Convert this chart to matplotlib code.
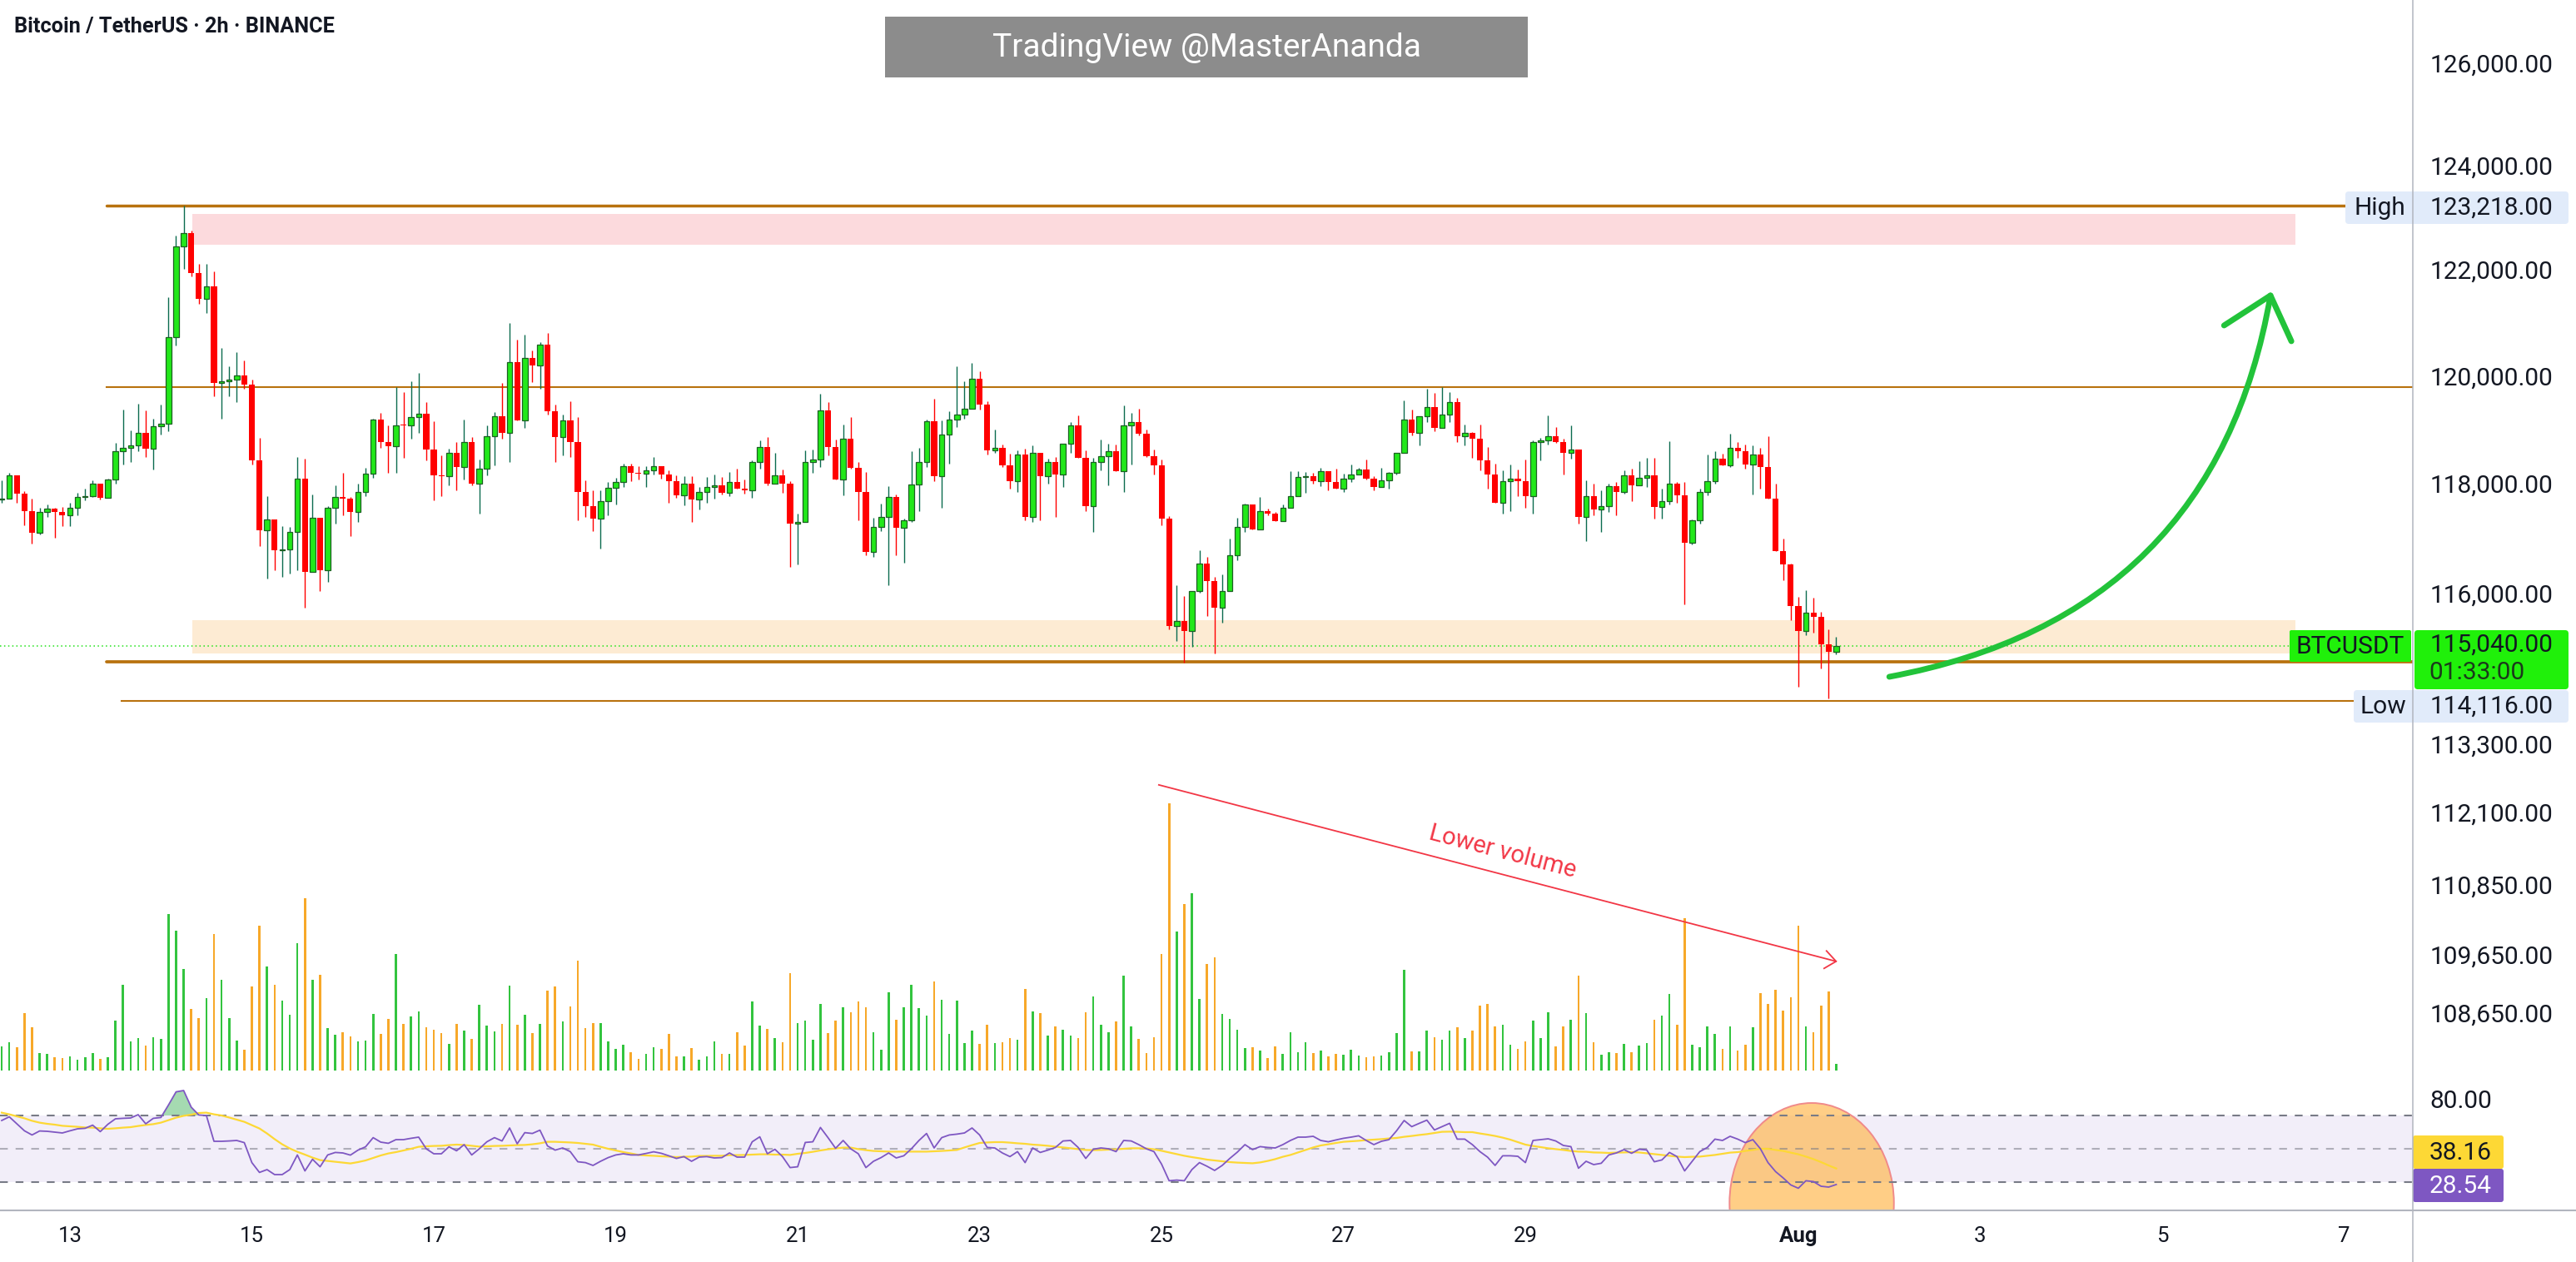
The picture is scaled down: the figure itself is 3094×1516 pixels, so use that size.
import matplotlib
matplotlib.use("Agg")
import matplotlib.pyplot as plt
import matplotlib.dates as mdates
import numpy as np
import pandas as pd
from matplotlib.patches import Rectangle, FancyBboxPatch, Ellipse, PathPatch
from matplotlib.path import Path
from matplotlib.ticker import NullLocator

plt.rcParams['font.family'] = ['Roboto', 'DejaVu Sans']

# ---------------- data (BTCUSDT 2h, Binance) ----------------
start_time = '2025-07-12 06:00'

opens = [117710,117720,118150,117810,117490,117090,117470,117540,117470,117420,
117550,117750,117770,117990,117730,118070,118600,118660,118710,118940,
118640,119060,119100,120730,122440,122700,121940,121440,121690,119860,
119890,119920,120010,119830,118420,117140,117340,116780,116800,117110,
118090,116390,117370,116410,117550,117750,117720,117470,117850,118180,
119180,118760,118690,119080,119070,119230,119290,118620,118150,118140,
118570,118300,118760,117990,118270,118870,119250,118940,120250,119160,
120330,120200,120580,119330,118860,119160,118760,117850,117590,117360,
117670,117920,118020,118320,118190,118180,118240,118320,118170,118050,
117790,117990,117700,117840,117930,117960,117830,118020,117900,117870,
118400,118670,118000,118150,117990,117260,117300,118390,118440,119350,
118680,118070,118820,118290,117840,116750,117210,117380,117750,117190,
117320,117980,118390,119150,118140,118900,119180,119270,119390,119950,
119460,118610,118650,118340,118040,118530,117380,118560,118130,118390,
118170,118740,119080,118480,117590,118400,118500,118590,118220,119080,
119130,118920,118510,118340,117350,115410,115490,115310,116030,116540,
116220,115740,116030,116690,117210,117610,117150,117490,117440,117310,
117560,117760,118120,118130,118040,118220,118030,117910,118090,118170,
118260,118090,117940,118060,118190,118570,119180,118940,119250,119410,
119020,119270,119510,118880,118930,118820,118420,118160,117650,118050,
118090,118050,117760,118760,118790,118870,118770,118570,118630,117390,
117760,117520,117590,117950,117850,118150,117970,118110,118150,117570,
117670,117990,117790,116910,117320,117840,118050,118460,118340,118650,
118590,118350,118540,118300,117720,116770,116520,115760,115320,115640,
115570,115080,114940]

closes = [117720,118150,117810,117490,117090,117470,117540,117470,117420,117550,
117750,117770,117990,117730,118070,118600,118660,118710,118940,118640,
119060,119100,120730,122440,122700,121940,121440,121690,119860,119890,
119920,120010,119830,118420,117140,117340,116780,116800,117110,118090,
116390,117370,116410,117550,117750,117720,117470,117850,118180,119180,
118760,118690,119080,119070,119230,119290,118620,118150,118140,118570,
118300,118760,117990,118270,118870,119250,118940,120250,119160,120330,
120200,120580,119330,118860,119160,118760,117850,117590,117360,117670,
117920,118020,118320,118190,118180,118240,118320,118170,118050,117790,
117990,117700,117840,117930,117960,117830,118020,117900,117870,118400,
118670,118000,118150,117990,117260,117300,118390,118440,119350,118680,
118070,118820,118290,117840,116750,117210,117380,117750,117190,117320,
117980,118390,119150,118140,118900,119180,119270,119390,119950,119460,
118610,118650,118340,118040,118530,117380,118560,118130,118390,118170,
118740,119080,118480,117590,118400,118500,118590,118220,119080,119130,
118920,118510,118340,117350,115410,115490,115310,116030,116540,116220,
115740,116030,116690,117210,117610,117150,117490,117440,117310,117560,
117760,118120,118130,118040,118220,118030,117910,118090,118170,118260,
118090,117940,118060,118190,118570,119180,118940,119250,119410,119020,
119270,119510,118880,118930,118820,118420,118160,117650,118050,118090,
118050,117760,118760,118790,118870,118770,118570,118630,117390,117760,
117520,117590,117950,117850,118150,117970,118110,118150,117570,117670,
117990,117790,116910,117320,117840,118050,118460,118340,118650,118590,
118350,118540,118300,117720,116770,116520,115760,115320,115640,115570,
115080,114940,115040]

highs = [118060,118200,118150,117860,117720,117560,117620,117550,117570,117650,
117830,117900,118060,117990,118090,118750,119370,118980,119480,119360,
119200,119460,121480,122650,123218,122750,122110,122110,121970,120520,
120180,120440,120290,119920,118840,117770,117340,117220,117210,118490,
118460,117800,117370,117590,117970,118200,117750,118000,118290,119200,
119310,119080,119790,119700,119890,120050,119500,119150,118520,118640,
118770,119180,118860,118440,119080,119320,119870,120990,120680,120770,
120470,120630,120810,119460,119270,119530,119230,118060,117870,117870,
118020,118100,118370,118370,118320,118320,118490,118320,118240,118150,
118140,118140,117940,118120,118170,118120,118210,118270,118070,118420,
118790,118860,118570,118260,118040,117450,118610,118630,119670,119500,
118810,119090,119230,118400,118210,117370,117630,117950,117800,117360,
118600,118660,119180,119570,119170,119340,120180,119890,120240,120090,
119530,118990,118720,118550,118610,118640,118710,118560,118460,118490,
118740,119130,119260,118610,118470,118810,118740,118720,119440,119310,
119390,118990,118630,118440,117400,116140,115950,116030,116780,116650,
116300,116340,116990,117370,117630,117620,117750,117540,117470,117620,
118220,118220,118210,118190,118290,118230,118280,118180,118350,118290,
118440,118130,118290,118210,118570,119540,119370,119250,119750,119680,
119790,119700,119590,119090,118950,119090,118670,118370,118240,118350,
118260,118440,118790,118840,119260,119050,118820,119080,118630,118060,
118000,117870,118000,118020,118240,118270,118410,118470,118470,117900,
118780,118020,118030,117340,117900,118540,118600,118550,118920,118770,
118720,118710,118660,118880,118000,116990,116530,115930,116050,115920,
115660,115350,115210]

lows = [117640,117720,117640,117240,116900,117060,117380,117010,117220,117220,
117410,117690,117750,117700,117730,117990,118350,118390,118590,118490,
118250,118910,118970,120560,122010,121880,121350,121180,119610,119200,
119610,119510,119760,118350,116850,116260,116410,116300,116350,116420,
115740,116380,116030,116200,117270,117420,117030,117290,117770,118110,
118650,118190,118200,118480,118820,118940,118420,117690,117760,117960,
117870,118080,117970,117450,118150,118340,118820,118390,119160,119020,
119880,119750,119280,118400,118520,118490,117320,117380,117120,116810,
117410,117620,117940,118050,118070,117940,118170,118090,117640,117740,
117600,117290,117530,117650,117720,117800,117760,117900,117820,117730,
118280,117960,118010,117830,116470,116520,117300,118190,118300,118520,
118070,117790,118280,117330,116680,116660,117120,116140,116690,116550,
117290,117500,118310,118040,117560,118370,119050,119200,119400,119370,
118540,118570,118300,117910,117850,117330,117300,117330,118000,117390,
117940,118570,118470,117500,117110,118240,117960,118220,117840,118350,
118890,118490,118170,117240,115340,115140,114750,115030,116010,115580,
114920,115460,116040,116590,117110,117150,117150,117410,117310,117310,
117560,117770,117830,118000,117950,117880,117900,117840,118020,118170,
118070,117870,117940,117900,118160,118580,118890,118710,119130,118960,
119030,119130,118770,118710,118480,118240,117900,117650,117440,117500,
117760,117550,117450,118420,118720,118750,118160,118450,117270,116950,
117420,117110,117470,117420,117810,117670,117980,117940,117360,117360,
117620,117640,115800,116890,117260,117790,117990,118340,118300,118470,
118280,117800,117900,117720,116770,116240,115510,114320,115240,115280,
114650,114116,114900]

volumes = [1305,1515,1260,3105,2325,930,885,705,660,750,
585,705,930,630,705,2700,4620,1575,1755,1335,
1800,1710,8445,7560,5490,3315,2820,3915,7365,4890,
2820,1605,1125,4530,7815,5625,4620,3780,3000,6885,
9300,4890,5175,2295,1935,2055,1845,1560,1635,3060,
1980,2790,6285,2535,2910,3180,2340,2205,2025,1455,
2520,2160,1725,3555,2415,2115,2520,4590,2475,3000,
2010,2520,4320,4530,2655,3465,5940,2295,2565,2565,
1560,1155,1395,1005,645,915,1260,1170,1965,750,
765,1215,585,765,1560,900,900,2070,1350,3735,
2430,2250,1755,1530,5265,2565,2700,1665,3600,2025,
2700,3420,3165,3735,3435,2070,1125,4230,2760,3435,
4620,3375,2985,4815,3840,1980,3780,1500,2160,1455,
2475,1485,1530,1755,1665,4410,3180,3120,1890,2370,
2220,1905,1755,3150,4005,2460,2070,2655,5130,2385,
1710,930,1815,6285,14445,7515,9000,9570,3870,5745,
6105,3060,2775,2205,1215,1275,1080,675,1305,900,
2070,990,1530,945,1065,750,900,840,1110,825,
735,765,825,990,2025,5430,1035,1050,2160,1800,
1665,2160,2325,1755,2160,3510,3600,2385,2475,1395,
1155,1575,2700,1755,3135,1305,2400,2760,5130,3105,
1530,855,975,930,1440,1005,1350,1500,2730,2955,
4125,2460,8220,1395,1260,2385,1965,1185,2370,1065,
1380,2340,4170,3600,4365,3225,3960,7815,2370,2070,
3510,4260,345]

rsi = [67.0,69.2,65.0,60.8,58.3,60.7,60.5,60.0,59.5,60.8,
62.0,62.3,64.2,60.3,64.7,68.0,68.3,68.5,70.5,65.0,
68.3,68.8,76.3,84.2,85.0,75.0,70.3,70.0,54.5,54.5,
54.7,55.0,53.7,41.7,35.8,37.5,34.5,34.5,37.5,46.3,
36.7,43.7,39.2,46.3,47.8,47.5,46.2,49.2,51.2,56.7,
54.0,53.3,55.5,55.5,56.3,57.0,50.0,47.0,47.0,51.2,
48.8,52.5,46.3,50.0,54.2,56.7,54.7,62.5,53.0,59.7,
59.2,61.2,51.7,49.2,50.5,48.3,42.2,41.7,40.0,42.5,
44.7,46.3,47.0,46.3,46.3,47.2,48.2,47.3,45.8,44.2,
45.3,42.5,45.0,45.3,44.5,44.7,47.5,45.0,45.0,54.2,
57.2,47.0,49.7,45.3,38.7,39.2,53.8,54.2,62.8,56.7,
50.3,55.0,50.0,47.0,38.7,42.5,44.7,47.5,44.5,45.8,
50.0,55.0,59.2,50.5,56.7,58.3,58.8,59.5,62.5,58.3,
50.8,50.5,47.5,45.3,48.3,41.7,50.5,47.8,49.2,50.8,
54.7,55.0,50.8,44.2,49.7,50.5,50.0,48.3,55.0,54.7,
52.5,50.0,48.3,40.8,30.8,31.2,30.8,37.5,41.7,39.5,
37.0,40.0,44.2,48.0,52.5,49.5,51.3,50.8,50.5,52.5,
55.0,57.0,57.0,57.5,55.0,54.2,55.3,56.3,57.0,57.8,
55.0,52.5,54.5,55.5,60.8,67.0,63.3,65.3,67.2,61.3,
63.3,65.3,55.8,55.8,52.5,48.3,45.0,40.0,45.8,45.8,
45.5,41.7,55.0,55.5,56.0,54.7,52.0,51.3,38.3,42.5,
40.5,41.3,46.3,47.5,49.5,47.3,49.7,49.3,42.2,43.3,
47.8,45.3,36.7,42.5,48.3,50.8,55.8,55.0,57.5,55.8,
53.7,55.5,50.0,41.7,36.3,32.5,28.3,26.3,30.8,30.3,
27.5,27.0,28.54]

rsi_ma = [71.7,70.7,69.5,68.3,66.8,65.7,65.0,64.5,63.8,63.5,
63.2,62.8,62.7,62.3,62.0,62.3,62.7,63.0,63.7,64.3,
64.8,65.7,67.2,68.7,69.8,70.5,71.5,71.7,70.7,70.0,
68.8,67.5,66.2,64.2,62.2,59.2,55.8,52.7,50.2,48.2,
46.5,44.7,43.2,42.7,42.2,41.7,41.2,42.0,43.0,44.5,
46.0,47.2,48.0,49.0,50.0,51.2,51.5,51.7,51.8,52.2,
52.5,52.3,51.8,51.3,51.5,51.7,51.8,52.0,52.2,52.3,
52.7,53.3,54.2,54.2,54.0,53.8,53.5,53.0,52.5,51.2,
50.0,49.0,48.0,47.2,46.3,46.0,45.8,45.5,45.3,45.0,
45.2,45.3,45.7,45.7,45.8,45.8,46.2,46.2,46.3,46.5,
46.7,46.7,46.5,46.5,46.3,47.0,47.5,48.2,49.0,49.7,
50.2,50.7,50.7,49.8,49.2,48.7,48.5,48.3,48.3,48.3,
48.3,48.3,48.3,48.5,48.7,49.0,49.3,50.8,52.2,53.5,
53.8,54.0,54.0,53.7,53.3,53.0,52.5,52.2,51.8,51.3,
50.8,50.3,49.8,49.3,49.2,49.3,49.5,49.7,50.0,50.3,
50.3,50.2,49.7,48.8,47.8,46.8,45.8,45.0,44.3,43.5,
43.0,42.5,42.0,41.7,41.5,41.3,41.8,42.7,43.8,45.2,
46.3,47.8,49.3,50.8,52.0,52.7,53.5,54.2,54.5,54.8,
55.2,55.5,55.8,56.2,56.5,57.2,57.7,58.3,58.8,59.5,
60.2,60.3,60.2,60.0,60.0,59.2,58.5,57.7,56.7,55.5,
54.0,52.5,51.7,51.0,50.3,49.8,49.3,48.7,48.3,48.2,
47.8,47.7,47.5,47.7,47.8,48.0,47.8,47.3,46.8,46.3,
45.8,45.3,45.0,45.2,45.3,45.8,46.3,47.0,47.7,48.0,
48.7,49.3,50.0,50.0,49.3,48.7,47.7,46.7,45.3,43.8,
42.0,40.0,38.16]

price_ticks = [126000, 124000, 122000, 120000, 118000, 116000,
               113300, 112100, 110850, 109650, 108650]
date_tick_days = ['2025-07-13','2025-07-15','2025-07-17','2025-07-19','2025-07-21',
                  '2025-07-23','2025-07-25','2025-07-27','2025-07-29','2025-08-01',
                  '2025-08-03','2025-08-05','2025-08-07']
date_tick_labels = ['13','15','17','19','21','23','25','27','29','Aug','3','5','7']

high_price = 123218
low_price = 114116
last_price = 115040
supply_zone = (122470, 123070)
demand_zone = (114907, 115505)
mid_level = 119793
support_level = 114771
low_level = 114073
rsi_last, rsi_ma_last = 28.54, 38.16

# ---------------- figure layout ----------------
W, H = 3094, 1516
fig = plt.figure(figsize=(W / 100, H / 100), dpi=100, facecolor='white')

def fy(py):
    return 1 - py / H

AX_RIGHT = 2898
times = pd.date_range(start_time, periods=len(closes), freq='2h')
xs = mdates.date2num(times)
T0 = mdates.date2num(pd.Timestamp('2025-07-13'))
xlim = (T0 - 0.7688, T0 + 25.755)

def t(s):
    return mdates.date2num(pd.Timestamp(s))

ax = fig.add_axes([0, fy(1290), AX_RIGHT / W, 1290 / H])
vax = fig.add_axes([0, fy(1286), AX_RIGHT / W, 400 / H])
rax = fig.add_axes([0, fy(1455), AX_RIGHT / W, 165 / H])
ax.set_zorder(2); vax.set_zorder(1); rax.set_zorder(2)
for a in (ax, vax, rax):
    a.set_facecolor('none')
    for s in a.spines.values():
        s.set_visible(False)
    a.set_xlim(*xlim)

TXT = '#131722'
SCALE_FS = 21.5

# ---------------- price pane ----------------
ax.set_yscale('log')
ax.set_ylim(107621, 127241)
ax.yaxis.set_minor_locator(NullLocator())
ax.yaxis.tick_right()
ax.set_yticks(price_ticks)
ax.set_yticklabels([f'{v:,.2f}' for v in price_ticks])
ax.tick_params(axis='y', length=0, pad=15, labelsize=SCALE_FS, labelcolor=TXT)
ax.tick_params(axis='x', bottom=False, labelbottom=False)

LINE_C = '#b8720e'
z_x0, z_x1 = t('2025-07-14 08:15'), t('2025-08-06 11:15')
ax.fill_between([z_x0, z_x1], supply_zone[0], supply_zone[1], color='#fcdadd', lw=0, zorder=1)
ax.fill_between([z_x0, z_x1], demand_zone[0], demand_zone[1], color='#fdebd3', lw=0, zorder=1)
l_x0 = t('2025-07-13 09:40')
ax.plot([l_x0, xlim[1]], [high_price] * 2, color=LINE_C, lw=2.5, solid_capstyle='round', zorder=2)
ax.plot([l_x0, xlim[1]], [mid_level] * 2, color=LINE_C, lw=1.5, zorder=2)
ax.plot([l_x0, xlim[1]], [support_level] * 2, color=LINE_C, lw=2.7, solid_capstyle='round', zorder=2)
ax.plot([t('2025-07-13 13:35'), xlim[1]], [low_level] * 2, color=LINE_C, lw=1.5, zorder=2)
ax.plot(list(xlim), [last_price] * 2, color='#22e31a', lw=1.1, ls=(0, (1, 2.2)), zorder=2)

o = np.array(opens, float); c = np.array(closes, float)
hh = np.array(highs, float); ll = np.array(lows, float)
up = c >= o
lo = np.minimum(o, c); hi = np.maximum(o, c)
hgt = np.maximum(hi - lo, 14.0)
wlo = np.minimum(ll, lo); whi = np.maximum(hh, hi)
G_FILL, G_EDGE, G_WICK, RED = '#22e81a', '#1c5f22', '#0b6b4f', '#ff0000'
ax.vlines(xs[up], wlo[up], whi[up], color=G_WICK, lw=1.0, zorder=3)
ax.vlines(xs[~up], wlo[~up], whi[~up], color=RED, lw=1.0, zorder=3)
ax.bar(xs[up], hgt[up], bottom=lo[up], width=0.060, color=G_FILL,
       edgecolor=G_EDGE, linewidth=0.9, zorder=4)
ax.bar(xs[~up], hgt[~up], bottom=lo[~up], width=0.066, color=RED, linewidth=0, zorder=4)

# green curved arrow (projection)
GA = '#22c33a'
p0 = (t('2025-08-02 00:00'), 114496)
p1 = (t('2025-08-05 13:55'), 115587)
p2 = (t('2025-08-06 04:34'), 121511)
ax.add_patch(PathPatch(Path([p0, p1, p2], [Path.MOVETO, Path.CURVE3, Path.CURVE3]),
                       fill=False, edgecolor=GA, lw=5, capstyle='round', zorder=5))
ax.plot([t('2025-08-05 16:19'), p2[0], t('2025-08-06 10:05')], [120944, p2[1], 120647],
        color=GA, lw=5, solid_capstyle='round', solid_joinstyle='round', zorder=5)

# "Lower volume" annotation
RV = '#f23645'
ax.plot([t('2025-07-24 23:17'), t('2025-08-01 09:58')], [112582, 109526], color=RV, lw=1.3, zorder=5)
ax.plot([t('2025-08-01 07:26'), t('2025-08-01 09:58'), t('2025-08-01 06:48')],
        [109705, 109526, 109406], color=RV, lw=1.3, zorder=5)
ax.text(t('2025-07-28 18:02'), 111417, 'Lower volume', color=RV, fontsize=21,
        rotation=-14.7, rotation_mode='anchor', ha='center', va='center', zorder=5)

# ---------------- volume ----------------
vol_colors = np.where(up, '#33c43f', '#f7a829')
vax.bar(xs, volumes, width=0.024, color=vol_colors, linewidth=0)
vax.set_ylim(0, 18000)
vax.set_xticks([]); vax.set_yticks([])

# ---------------- RSI ----------------
r = np.array(rsi); rm = np.array(rsi_ma)
rax.set_ylim(12.5, 95)
rax.axhspan(30, 70, color='#f2eef9', lw=0, zorder=0.5)
rax.fill_between(xs, r, 70, where=r > 70, interpolate=True, color='#8fd19e', alpha=0.8, lw=0, zorder=1)
rax.add_patch(Ellipse((t('2025-08-01 03:32'), 17.5), 1.807, 120, facecolor='#ffb74d',
                      alpha=0.68, edgecolor='none', zorder=1.2))
rax.add_patch(Ellipse((t('2025-08-01 03:32'), 17.5), 1.807, 120, facecolor='none',
                      edgecolor='#f08a8a', lw=1.4, zorder=1.3))
for lvl, al in ((70, 1.0), (30, 1.0), (50, 0.55)):
    rax.axhline(lvl, color='#787b86', lw=1.5, ls=(0, (4.5, 4.5)), alpha=al, zorder=1.5)
rax.plot(xs, rm, color='#fdd835', lw=1.6, zorder=3)
rax.plot(xs, r, color='#7e57c2', lw=1.3, zorder=4)
rax.yaxis.tick_right()
rax.set_yticks([80]); rax.set_yticklabels(['80.00'])
rax.tick_params(axis='y', length=0, pad=15, labelsize=SCALE_FS, labelcolor=TXT)
rax.set_xticks([t(d) for d in date_tick_days])
rax.set_xticklabels(date_tick_labels)
rax.tick_params(axis='x', length=0, pad=13, labelsize=18.5, labelcolor=TXT)
for lab in rax.get_xticklabels():
    if lab.get_text() == 'Aug':
        lab.set_fontweight('bold')

# ---------------- overlay (scale boxes, title, watermark) ----------------
oax = fig.add_axes([0, 0, 1, 1], zorder=10)
oax.set_xlim(0, W); oax.set_ylim(H, 0)
oax.axis('off'); oax.patch.set_visible(False)

def box(x0, y0, x1, y1, color, rs=4):
    oax.add_patch(FancyBboxPatch((x0, y0), x1 - x0, y1 - y0,
                                 boxstyle=f'round,pad=0,rounding_size={rs}',
                                 facecolor=color, edgecolor='none'))

oax.text(17, 32, 'Bitcoin / TetherUS · 2h · BINANCE', fontsize=18.2, fontweight='bold',
         color=TXT, ha='left', va='center')
oax.add_patch(Rectangle((1063, 20), 772, 73, facecolor='#8c8c8c', edgecolor='none'))
oax.text(1449, 57, 'TradingView @MasterAnanda', fontsize=28, color='white', ha='center', va='center')

LB = '#e1ebfa'
box(2817, 230, 3085, 269, LB)
oax.text(2858, 250, 'High', fontsize=SCALE_FS, color=TXT, ha='center', va='center')
oax.text(2919, 250, f'{high_price:,.2f}', fontsize=SCALE_FS, color=TXT, ha='left', va='center')

GB = '#20f00a'
box(2750, 757, 2896, 795, GB, rs=2)
box(2900, 757, 3085, 828, GB)
oax.text(2823, 777, 'BTCUSDT', fontsize=SCALE_FS, color=TXT, ha='center', va='center')
oax.text(2919, 775, f'{last_price:,.2f}', fontsize=SCALE_FS, color=TXT, ha='left', va='center')
oax.text(2917, 808, '01:33:00', fontsize=SCALE_FS, color='#1b3a1b', ha='left', va='center')

box(2827, 829, 3085, 868, LB)
oax.text(2862, 849, 'Low', fontsize=SCALE_FS, color=TXT, ha='center', va='center')
oax.text(2919, 849, f'{low_price:,.2f}', fontsize=SCALE_FS, color=TXT, ha='left', va='center')

box(2898, 1364, 3007, 1404, '#fdd835', rs=3)
oax.text(2918, 1385, f'{rsi_ma_last:.2f}', fontsize=SCALE_FS, color=TXT, ha='left', va='center')
box(2898, 1404, 3007, 1444, '#7e57c2', rs=3)
oax.text(2918, 1425, f'{rsi_last:.2f}', fontsize=SCALE_FS, color='white', ha='left', va='center')

oax.plot([AX_RIGHT, AX_RIGHT], [0, H], color='#b2b5be', lw=1.1)
oax.plot([0, W], [1454, 1454], color='#b2b5be', lw=1.5)

fig.savefig('out.png', dpi=100, facecolor='white')
